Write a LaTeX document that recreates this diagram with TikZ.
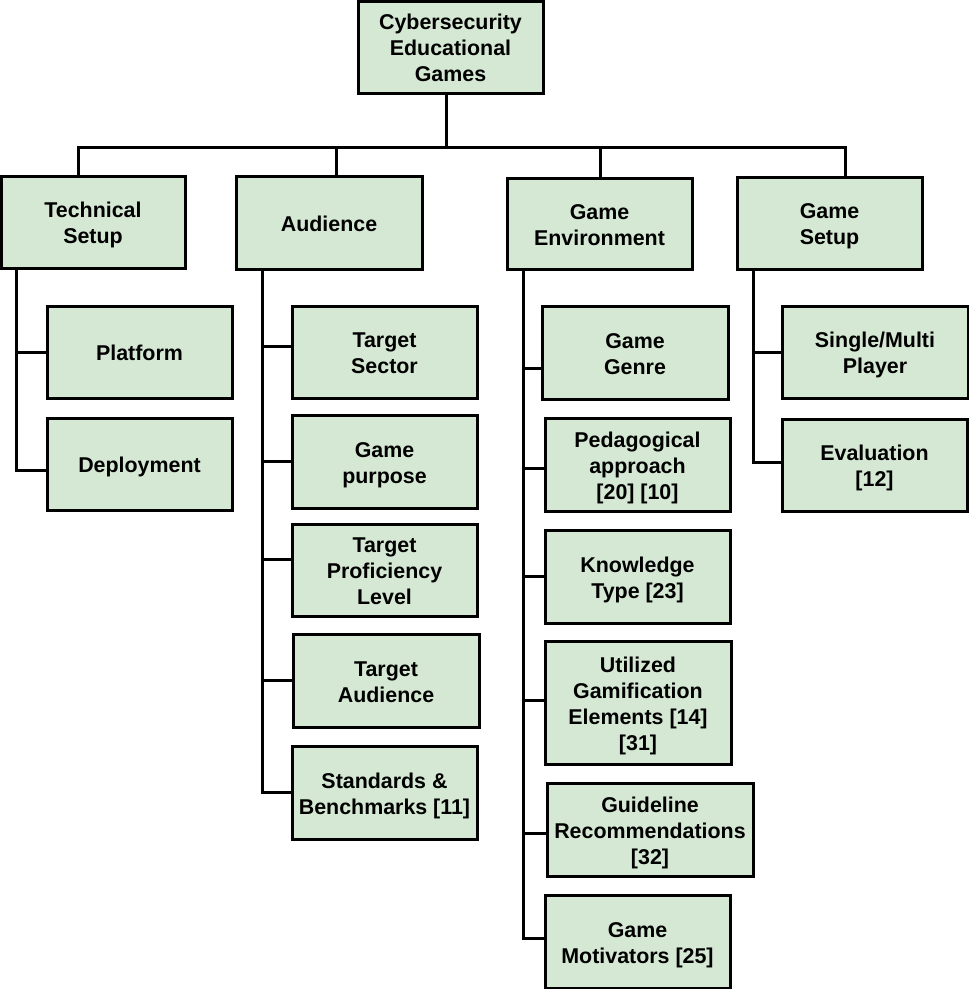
\documentclass[tikz,border=0pt]{standalone}
\usepackage{fontspec}
\setmainfont{Liberation Sans}
\definecolor{boxfill}{HTML}{D5E8D4}
\newcommand\tstr{\rule{0pt}{23pt}}
\tikzset{
  box/.style={draw=black, line width=3pt, fill=boxfill, inner sep=0pt, align=center,
    font=\bfseries\fontsize{21.4}{26}\selectfont,
    execute at end node={\rule[-5.7pt]{0pt}{0pt}}},
  conn/.style={draw=black, line width=3pt, line cap=rect}
}
\begin{document}
\begin{tikzpicture}[x=1pt,y=-1pt]
\useasboundingbox (0,0) rectangle (969,989);
% bus coordinates
\coordinate (r0) at (446,147);
\coordinate (c1) at (78,147);
\coordinate (c2) at (336,147);
\coordinate (c3) at (600,147);
\coordinate (c4) at (845,147);
\coordinate (tT) at (16,0);
\coordinate (tA) at (262,0);
\coordinate (tE) at (523,0);
\coordinate (tG) at (753,0);
% root and first level
\node[box, minimum width=185pt, minimum height=92pt] (root) at (450.5,47) {\tstr Cybersecurity\\Educational\\Games};
\node[box, minimum width=184pt, minimum height=92pt] (ts) at (93,222) {\tstr Technical\\Setup};
\node[box, minimum width=186pt, minimum height=93pt] (aud) at (329,222.5) {\tstr Audience};
\node[box, minimum width=185pt, minimum height=91pt] (genv) at (599.5,223.5) {\tstr Game\\Environment};
\node[box, minimum width=185pt, minimum height=92pt] (gset) at (829.5,223) {\tstr Game\\Setup};
% Technical setup children
\node[box, minimum width=185pt, minimum height=92pt] (plat) at (139.5,352) {\tstr Platform};
\node[box, minimum width=185pt, minimum height=92pt] (dep) at (139.5,464) {\tstr Deployment};
% Audience children
\node[box, minimum width=185pt, minimum height=92pt] (tsec) at (384.5,352) {\tstr Target\\Sector};
\node[box, minimum width=185pt, minimum height=93pt] (gpur) at (384.5,461.5) {\tstr Game\\purpose};
\node[box, minimum width=185pt, minimum height=92pt] (tpro) at (384.5,570) {\tstr Target\\Proficiency\\Level};
\node[box, minimum width=186pt, minimum height=93pt] (taud) at (386,680.5) {\tstr Target\\Audience};
\node[box, minimum width=185pt, minimum height=93pt] (std) at (384.5,792.5) {\tstr Standards \&\\Benchmarks [11]};
% Game environment children
\node[box, minimum width=186pt, minimum height=93pt] (ggen) at (635,352.5) {\tstr Game\\Genre};
\node[box, minimum width=185pt, minimum height=93pt] (ped) at (637.5,464.5) {\tstr Pedagogical\\approach\\ {[20] [10]}};
\node[box, minimum width=185pt, minimum height=93pt] (know) at (637.5,576.5) {\tstr Knowledge\\Type [23]};
\node[box, minimum width=186pt, minimum height=123pt] (util) at (638,702.5) {\tstr Utilized\\Gamification\\Elements [14]\\{[31]}};
\node[box, minimum width=206pt, minimum height=93pt] (guide) at (650,829.5) {\tstr Guideline\\Recommendations\\{[32]}};
\node[box, minimum width=185pt, minimum height=93pt] (mot) at (637.5,941.5) {\tstr Game\\Motivators [25]};
% Game setup children
\node[box, minimum width=186pt, minimum height=92pt] (single) at (875,352) {\tstr Single/Multi\\Player};
\node[box, minimum width=185pt, minimum height=92pt] (eval) at (874.5,465) {\tstr Evaluation\\{[12]}};
% top connectors
\draw[conn] (r0 |- root.south) -- (r0);
\draw[conn] (c1) -- (c4);
\draw[conn] (c1) -- (c1 |- ts.north);
\draw[conn] (c2) -- (c2 |- aud.north);
\draw[conn] (c3) -- (c3 |- genv.north);
\draw[conn] (c4) -- (c4 |- gset.north);
% Technical setup trunk
\draw[conn] ([yshift=-6pt]dep.west) -| (tT |- ts.south);
\draw[conn] (plat.west) -| (tT |- ts.south);
% Audience trunk
\draw[conn] (std.west) -| (tA |- aud.south);
\draw[conn] ([yshift=6pt]tsec.west) -| (tA |- aud.south);
\draw[conn] (gpur.west) -| (tA |- aud.south);
\draw[conn] ([yshift=11pt]tpro.west) -| (tA |- aud.south);
\draw[conn] (taud.west) -| (tA |- aud.south);
% Game environment trunk
\draw[conn] ([yshift=3pt]mot.west) -| (tE |- genv.south);
\draw[conn] ([yshift=-16pt]ggen.west) -| (tE |- genv.south);
\draw[conn] ([yshift=-4pt]ped.west) -| (tE |- genv.south);
\draw[conn] (know.west) -| (tE |- genv.south);
\draw[conn] ([yshift=2pt]util.west) -| (tE |- genv.south);
\draw[conn] ([yshift=-4pt]guide.west) -| (tE |- genv.south);
% Game setup trunk
\draw[conn] ([yshift=3pt]eval.west) -| (tG |- gset.south);
\draw[conn] (single.west) -| (tG |- gset.south);
\end{tikzpicture}
\end{document}
